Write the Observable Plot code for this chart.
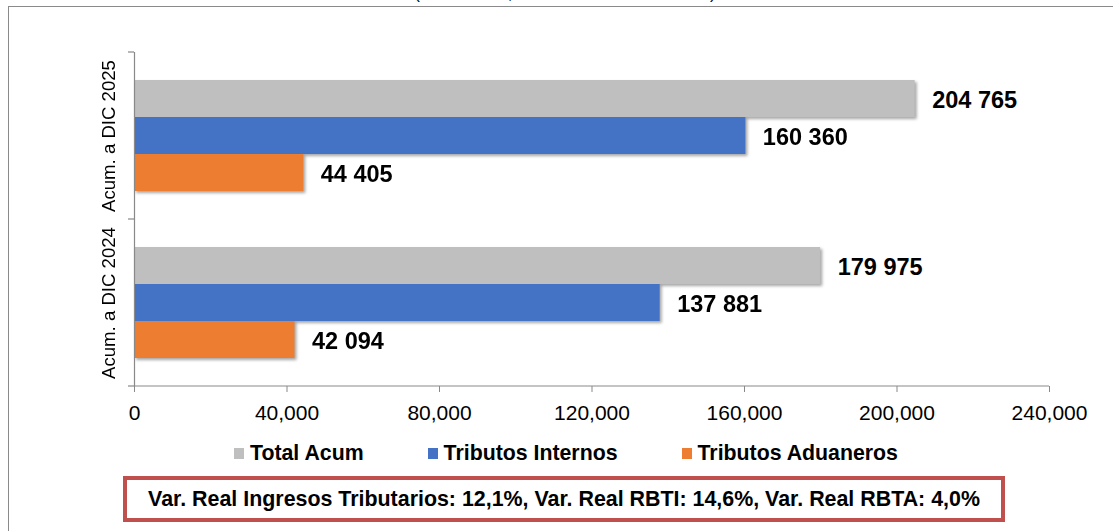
<!DOCTYPE html>
<html>
<head>
<meta charset="utf-8">
<script src="https://cdn.jsdelivr.net/npm/d3@7"></script>
<script src="https://cdn.jsdelivr.net/npm/@observablehq/plot@0.6"></script>
<style>
  html, body { margin: 0; padding: 0; background: #fff; }
  #wrap { position: relative; width: 1113px; height: 531px; overflow: hidden; background: #fff;
          font-family: Arial, "Liberation Sans", sans-serif; color: #000; }
  #frame { position: absolute; left: 8px; top: 6px; width: 1200px; height: 600px; border: 1px solid #8a8a8a; }
  #subtitle { position: absolute; left: 565px; top: -15px; transform: translateX(-50%); white-space: nowrap;
              font-size: 17px; line-height: 17px; color: #000; }
  #chart { position: absolute; left: 0; top: 0; }
  #legend { position: absolute; left: 234px; top: 443px; display: flex; align-items: center; gap: 64px;
            font-size: 21.3px; line-height: 21px; font-weight: bold; }
  #legend .item { display: flex; align-items: center; }
  #legend .sw { width: 10px; height: 11px; margin-right: 6px; }
  #note { position: absolute; left: 123px; top: 476px; width: 882px; height: 46px; box-sizing: border-box;
          border: 4.5px solid #C0504D; display: flex; align-items: center; justify-content: center;
          font-size: 21.4px; font-weight: bold; white-space: nowrap; }
</style>
</head>
<body>
<div id="wrap">
  <div id="frame"></div>
  <div id="subtitle">(En millones, en términos de bolivianos)</div>
  <div id="chart"></div>
  <div id="legend"></div>
  <div id="note"></div>
</div>
<script>
const periods = ["Acum. a DIC 2025", "Acum. a DIC 2024"];
const series = ["Total Acum", "Tributos Internos", "Tributos Aduaneros"];
const values2025 = [204765, 160360, 44405];
const values2024 = [179975, 137881, 42094];
const colors = ["#BFBFBF", "#4472C4", "#ED7D31"];
const xTicks = [0, 40000, 80000, 120000, 160000, 200000, 240000];
const noteText = "Var. Real Ingresos Tributarios: 12,1%, Var. Real RBTI: 14,6%, Var. Real RBTA: 4,0%";

const valuesByPeriod = [values2025, values2024];
const data = periods.flatMap((p, i) => series.map((s, j) => ({period: p, serie: s, value: valuesByPeriod[i][j]})));
const fmtLabel = v => d3.format(",")(v).replace(/,/g, " ");

const W = 1113, H = 430;
const plot = Plot.plot({
  width: W,
  height: H,
  marginLeft: 134,
  marginRight: 64,
  marginTop: 51,
  marginBottom: 44,
  style: {fontFamily: 'Arial, "Liberation Sans", sans-serif', fontSize: "21px", color: "#000", background: "transparent", overflow: "visible"},
  x: {domain: [0, 240000], axis: null},
  y: {domain: series, paddingInner: 0, paddingOuter: 0.74, axis: null},
  fy: {domain: periods, padding: 0, axis: null},
  color: {domain: series, range: colors},
  marks: [
    Plot.axisX({ticks: xTicks, tickFormat: d3.format(","), tickSize: 6, tickPadding: 13, stroke: "#898989", fill: "#000", label: null, fontSize: 21}),
    Plot.barX(data, {x: "value", y: "serie", fy: "period", fill: "serie"}),
    Plot.ruleX([0], {stroke: "#898989", strokeWidth: 1.2}),
    Plot.text(data, {x: "value", y: "serie", fy: "period", text: d => fmtLabel(d.value), dx: 17, dy: 1,
      textAnchor: "start", fontSize: 23.5, fontWeight: "bold", fill: "#000"}),
    Plot.text(periods, {fy: d => d, text: d => d, frameAnchor: "left", rotate: -90, dx: -25,
      textAnchor: "middle", lineAnchor: "middle", fontSize: 18.6, fill: "#000"})
  ]
});
document.getElementById("chart").appendChild(plot);

// drop shadow on bars (as in the original)
plot.querySelectorAll('g[aria-label="bar"]').forEach(g => {
  g.style.filter = "drop-shadow(2px 2px 1.5px rgba(0,0,0,0.35))";
});

// axis lines and category boundary ticks, from the plot's scales
const xs = plot.scale("x"), fys = plot.scale("fy");
const x0 = xs.apply(0), x1 = xs.apply(240000);
const bounds = periods.map(p => fys.apply(p)).concat([fys.apply(periods[periods.length - 1]) + fys.bandwidth]);
const svg = d3.select(plot.tagName.toLowerCase() === "svg" ? plot : plot.querySelector("svg"));
const gAx = svg.append("g").attr("stroke", "#898989").attr("stroke-width", 1.2);
gAx.append("line").attr("x1", x0).attr("x2", x1).attr("y1", bounds[bounds.length - 1]).attr("y2", bounds[bounds.length - 1]);
bounds.forEach(b => gAx.append("line").attr("x1", x0 - 6).attr("x2", x0).attr("y1", b).attr("y2", b));

// legend
const legend = d3.select("#legend");
series.forEach((s, i) => {
  const it = legend.append("div").attr("class", "item");
  it.append("span").attr("class", "sw").style("background", colors[i]);
  it.append("span").text(s);
});
document.getElementById("note").textContent = noteText;
</script>
</body>
</html>
